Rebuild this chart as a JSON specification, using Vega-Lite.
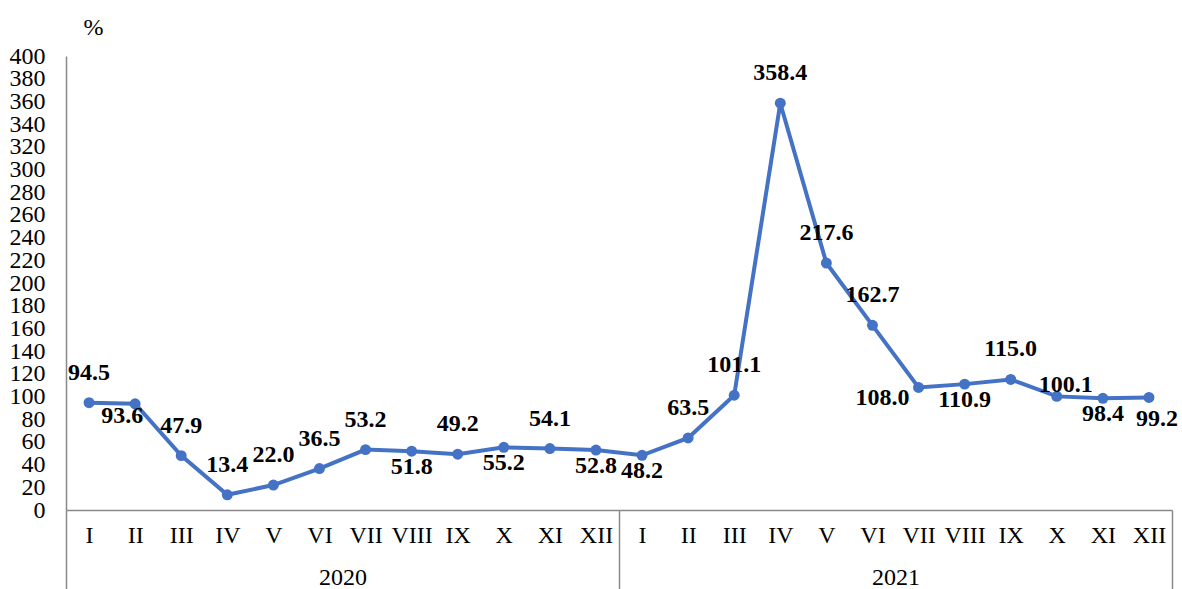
{
  "$schema": "https://vega.github.io/schema/vega-lite/v6.json",
  "width": 1106,
  "height": 454,
  "autosize": {"type": "none"},
  "padding": {"left": 66, "top": 56, "right": 10, "bottom": 79},
  "background": "white",
  "config": {"view": {"stroke": null}, "axis": {"labelOverlap": false, "labelFlush": false}},
  "data": {"values": [
    {"key": "2020-I", "year": "2020", "value": 94.5},
    {"key": "2020-II", "year": "2020", "value": 93.6},
    {"key": "2020-III", "year": "2020", "value": 47.9},
    {"key": "2020-IV", "year": "2020", "value": 13.4},
    {"key": "2020-V", "year": "2020", "value": 22.0},
    {"key": "2020-VI", "year": "2020", "value": 36.5},
    {"key": "2020-VII", "year": "2020", "value": 53.2},
    {"key": "2020-VIII", "year": "2020", "value": 51.8},
    {"key": "2020-IX", "year": "2020", "value": 49.2},
    {"key": "2020-X", "year": "2020", "value": 55.2},
    {"key": "2020-XI", "year": "2020", "value": 54.1},
    {"key": "2020-XII", "year": "2020", "value": 52.8},
    {"key": "2021-I", "year": "2021", "value": 48.2},
    {"key": "2021-II", "year": "2021", "value": 63.5},
    {"key": "2021-III", "year": "2021", "value": 101.1},
    {"key": "2021-IV", "year": "2021", "value": 358.4},
    {"key": "2021-V", "year": "2021", "value": 217.6},
    {"key": "2021-VI", "year": "2021", "value": 162.7},
    {"key": "2021-VII", "year": "2021", "value": 108.0},
    {"key": "2021-VIII", "year": "2021", "value": 110.9},
    {"key": "2021-IX", "year": "2021", "value": 115.0},
    {"key": "2021-X", "year": "2021", "value": 100.1},
    {"key": "2021-XI", "year": "2021", "value": 98.4},
    {"key": "2021-XII", "year": "2021", "value": 99.2}
  ]},
  "resolve": {"scale": {"x": "independent"}},
  "layer": [
    {
      "encoding": {
        "x": {"field": "key", "type": "nominal", "sort": null,
          "axis": {"title": null, "labelAngle": 0, "labelExpr": "split(datum.label, '-')[1]",
            "labelFont": "Liberation Serif", "labelFontSize": 24, "labelColor": "black",
            "ticks": false, "tickSize": 0, "labelPadding": 13, "domainColor": "#898989", "domainWidth": 1.5, "grid": false, "labelOverlap": false}},
        "y": {"field": "value", "type": "quantitative", "scale": {"domain": [0, 400], "nice": false},
          "axis": {"title": "%", "titleAngle": 0, "titleX": 27, "titleY": -29, "titleAlign": "center", "titleBaseline": "middle",
            "titleFont": "Liberation Serif", "titleFontSize": 24, "titleFontWeight": "normal", "titleColor": "black",
            "values": [0,20,40,60,80,100,120,140,160,180,200,220,240,260,280,300,320,340,360,380,400],
            "labelFont": "Liberation Serif", "labelFontSize": 24, "labelColor": "black", "labelOverlap": false,
            "ticks": false, "tickSize": 0, "labelPadding": 21, "domainColor": "#898989", "domainWidth": 1.5, "grid": false}}
      },
      "layer": [
        {
          "mark": {"type": "line", "color": "#4472C4", "strokeWidth": 4}
        },
        {
          "mark": {"type": "point", "filled": true, "color": "#4472C4", "size": 120, "opacity": 1}
        },
        {
          "transform": [{"filter": {"field": "key", "oneOf": ["2020-I","2020-III","2020-IV","2020-V","2020-VI","2020-VII","2020-IX","2020-XI","2021-II","2021-III","2021-IV","2021-V","2021-VI","2021-IX"]}}],
          "mark": {"type": "text", "font": "Liberation Serif", "fontSize": 24, "fontWeight": "bold", "color": "black", "baseline": "middle", "dy": -30},
          "encoding": {"text": {"field": "value", "type": "quantitative", "format": ".1f"}}
        },
        {
          "transform": [{"filter": {"field": "key", "oneOf": ["2020-VIII","2020-X","2020-XII","2021-I","2021-VIII","2021-XI"]}}],
          "mark": {"type": "text", "font": "Liberation Serif", "fontSize": 24, "fontWeight": "bold", "color": "black", "baseline": "middle", "dy": 16},
          "encoding": {"text": {"field": "value", "type": "quantitative", "format": ".1f"}}
        },
        {
          "transform": [{"filter": {"field": "key", "oneOf": ["2020-II"]}}],
          "mark": {"type": "text", "font": "Liberation Serif", "fontSize": 24, "fontWeight": "bold", "color": "black", "baseline": "middle", "dx": -13, "dy": 12},
          "encoding": {"text": {"field": "value", "type": "quantitative", "format": ".1f"}}
        },
        {
          "transform": [{"filter": {"field": "key", "oneOf": ["2021-VII"]}}],
          "mark": {"type": "text", "font": "Liberation Serif", "fontSize": 24, "fontWeight": "bold", "color": "black", "baseline": "middle", "dx": -36, "dy": 11},
          "encoding": {"text": {"field": "value", "type": "quantitative", "format": ".1f"}}
        },
        {
          "transform": [{"filter": {"field": "key", "oneOf": ["2021-X"]}}],
          "mark": {"type": "text", "font": "Liberation Serif", "fontSize": 24, "fontWeight": "bold", "color": "black", "baseline": "middle", "dx": 9, "dy": -11},
          "encoding": {"text": {"field": "value", "type": "quantitative", "format": ".1f"}}
        },
        {
          "transform": [{"filter": {"field": "key", "oneOf": ["2021-XII"]}}],
          "mark": {"type": "text", "font": "Liberation Serif", "fontSize": 24, "fontWeight": "bold", "color": "black", "baseline": "middle", "dx": 8, "dy": 22},
          "encoding": {"text": {"field": "value", "type": "quantitative", "format": ".1f"}}
        }
      ]
    },
    {
      "mark": {"type": "rule", "opacity": 0},
      "encoding": {
        "x": {"field": "year", "type": "nominal", "scale": {"type": "band", "paddingInner": 0, "paddingOuter": 0},
          "axis": {"title": null, "orient": "bottom", "domain": false, "ticks": true, "tickBand": "extent", "tickSize": 79,
            "tickColor": "#898989", "tickWidth": 1.5, "labelAngle": 0, "labelPadding": -24,
            "labelFont": "Liberation Serif", "labelFontSize": 24, "labelColor": "black", "grid": false}}
      }
    }
  ]
}
